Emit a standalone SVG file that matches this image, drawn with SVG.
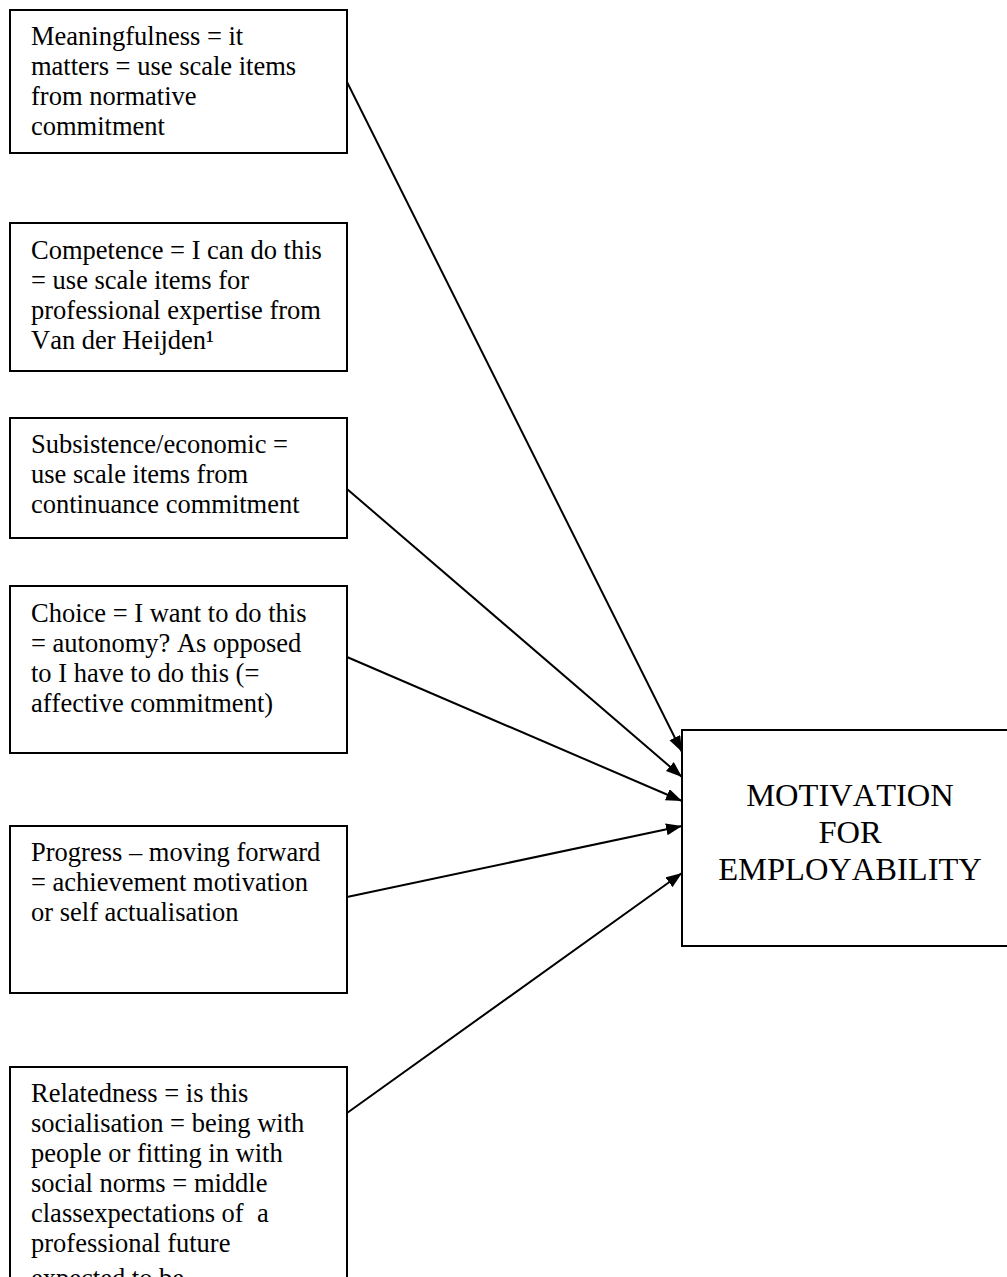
<svg xmlns="http://www.w3.org/2000/svg" width="1007" height="1277" viewBox="0 0 1007 1277">
<style>
.box{fill:#fff;stroke:#000;stroke-width:2}
.t{font-family:"Liberation Serif","Times New Roman",serif;font-size:26.5px;fill:#000;font-kerning:none}
.big{font-family:"Liberation Serif","Times New Roman",serif;font-size:32.5px;fill:#000;text-anchor:middle;font-kerning:none}
.c{stroke:#000;stroke-width:2;fill:none}
</style>
<defs>
<marker id="ah" markerUnits="userSpaceOnUse" markerWidth="18" markerHeight="14" refX="16" refY="6" orient="auto">
<path d="M0,0 L16,6 L0,12 z" fill="#000"/>
</marker>
</defs>
<rect width="1007" height="1277" fill="#fff"/>
<g id="connectors">
<line class="c" x1="347" y1="82" x2="682" y2="752" marker-end="url(#ah)"/>
<line class="c" x1="347" y1="489" x2="682" y2="777" marker-end="url(#ah)"/>
<line class="c" x1="347" y1="657" x2="682" y2="801" marker-end="url(#ah)"/>
<line class="c" x1="347" y1="897" x2="682" y2="826" marker-end="url(#ah)"/>
<line class="c" x1="347" y1="1113" x2="682" y2="873" marker-end="url(#ah)"/>
</g>
<g id="meaningfulness">
<rect class="box" x="10" y="10" width="337" height="143"/>
<text class="t" x="31" y="45">Meaningfulness = it</text>
<text class="t" x="31" y="75">matters = use scale items</text>
<text class="t" x="31" y="105">from normative</text>
<text class="t" x="31" y="135">commitment</text>
</g>
<g id="competence">
<rect class="box" x="10" y="223" width="337" height="148"/>
<text class="t" x="31" y="259">Competence = I can do this</text>
<text class="t" x="31" y="289">= use scale items for</text>
<text class="t" x="31" y="319">professional expertise from</text>
<text class="t" x="31" y="349">Van der Heijden¹</text>
</g>
<g id="subsistence">
<rect class="box" x="10" y="418" width="337" height="120"/>
<text class="t" x="31" y="453">Subsistence/economic =</text>
<text class="t" x="31" y="483">use scale items from</text>
<text class="t" x="31" y="513">continuance commitment</text>
</g>
<g id="choice">
<rect class="box" x="10" y="586" width="337" height="167"/>
<text class="t" x="31" y="622">Choice = I want to do this</text>
<text class="t" x="31" y="652">= autonomy? As opposed</text>
<text class="t" x="31" y="682">to I have to do this (=</text>
<text class="t" x="31" y="712">affective commitment)</text>
</g>
<g id="progress">
<rect class="box" x="10" y="826" width="337" height="167"/>
<text class="t" x="31" y="861">Progress – moving forward</text>
<text class="t" x="31" y="891">= achievement motivation</text>
<text class="t" x="31" y="921">or self actualisation</text>
</g>
<g id="relatedness">
<rect class="box" x="10" y="1067" width="337" height="240"/>
<text class="t" x="31" y="1102">Relatedness = is this</text>
<text class="t" x="31" y="1132">socialisation = being with</text>
<text class="t" x="31" y="1162">people or fitting in with</text>
<text class="t" x="31" y="1192">social norms = middle</text>
<text class="t" x="31" y="1222" xml:space="preserve">classexpectations of  a</text>
<text class="t" x="31" y="1252">professional future</text>
<text class="t" x="31" y="1287">expected to be</text>
</g>
<g id="motivation">
<rect class="box" x="682" y="730" width="340" height="216"/>
<text class="big" x="850" y="806">MOTIVATION</text>
<text class="big" x="850" y="843">FOR</text>
<text class="big" x="850" y="880">EMPLOYABILITY</text>
</g>
</svg>
